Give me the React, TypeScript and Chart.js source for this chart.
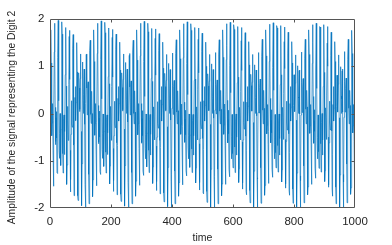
import React, { useEffect, useRef } from "react";
import { Chart, registerables } from "chart.js";

Chart.register(...registerables);

const xTickValues = [0, 200, 400, 600, 800, 1000];
const yTickValues = [-2, -1, 0, 1, 2];
const xAxisTitle = "time";
const yAxisTitle = "Amplitude of the signal representing the Digit 2";

// sample values of the digit-2 tone, sample 1 .. 1000
const digit2Signal = [
  0, 1.36, 1.77, 1.07, 0.03, -0.47, -0.2, 0.21, 0.04, -0.79, -1.54, -1.35,
  -0.14, 1.3, 1.91, 1.32, 0.13, -0.66, -0.59, -0.09, 0.04, -0.52, -1.25, -1.27,
  -0.25, 1.18, 1.97, 1.53, 0.27, -0.79, -0.95, -0.42, 0.0, -0.26, -0.9, -1.1,
  -0.34, 1.02, 1.94, 1.68, 0.42, -0.85, -1.26, -0.76, -0.11, -0.03, -0.53, -0.87,
  -0.38, 0.82, 1.82, 1.76, 0.58, -0.84, -1.5, -1.09, -0.26, 0.15, -0.14, -0.57,
  -0.36, 0.61, 1.63, 1.76, 0.72, -0.78, -1.66, -1.4, -0.44, 0.27, 0.23, -0.22,
  -0.29, 0.41, 1.37, 1.67, 0.83, -0.67, -1.74, -1.65, -0.65, 0.34, 0.57, 0.15,
  -0.15, 0.23, 1.07, 1.5, 0.88, -0.53, -1.74, -1.84, -0.86, 0.35, 0.86, 0.54,
  0.04, 0.09, 0.74, 1.26, 0.88, -0.38, -1.65, -1.95, -1.06, 0.3, 1.09, 0.92,
  0.27, 0.0, 0.4, 0.94, 0.81, -0.23, -1.5, -1.98, -1.22, 0.21, 1.25, 1.26,
  0.54, -0.03, 0.08, 0.58, 0.67, -0.09, -1.29, -1.91, -1.34, 0.09, 1.33, 1.55,
  0.82, -0.02, -0.21, 0.19, 0.47, 0.0, -1.04, -1.76, -1.4, -0.05, 1.33, 1.77,
  1.1, 0.05, -0.46, -0.21, 0.21, 0.05, -0.77, -1.53, -1.38, -0.19, 1.27, 1.91,
  1.35, 0.17, -0.64, -0.6, -0.1, 0.05, -0.5, -1.23, -1.29, -0.3, 1.14, 1.96,
  1.56, 0.31, -0.76, -0.95, -0.43, -0.01, -0.24, -0.89, -1.12, -0.38, 0.97, 1.93,
  1.71, 0.47, -0.82, -1.26, -0.78, -0.12, -0.03, -0.52, -0.87, -0.41, 0.78, 1.81,
  1.78, 0.63, -0.8, -1.49, -1.11, -0.28, 0.15, -0.13, -0.57, -0.39, 0.57, 1.61,
  1.78, 0.77, -0.74, -1.65, -1.42, -0.47, 0.26, 0.24, -0.22, -0.3, 0.38, 1.35,
  1.68, 0.87, -0.62, -1.72, -1.67, -0.68, 0.32, 0.57, 0.17, -0.16, 0.21, 1.05,
  1.51, 0.92, -0.48, -1.71, -1.86, -0.9, 0.31, 0.86, 0.55, 0.05, 0.08, 0.72,
  1.26, 0.91, -0.33, -1.62, -1.96, -1.1, 0.26, 1.08, 0.93, 0.29, 0.0, 0.39,
  0.94, 0.84, -0.18, -1.46, -1.98, -1.26, 0.16, 1.23, 1.27, 0.56, -0.03, 0.07,
  0.57, 0.69, -0.06, -1.25, -1.91, -1.38, 0.03, 1.3, 1.55, 0.85, 0.0, -0.22,
  0.18, 0.48, 0.03, -1.0, -1.75, -1.43, -0.1, 1.29, 1.77, 1.13, 0.08, -0.45,
  -0.22, 0.21, 0.07, -0.74, -1.52, -1.41, -0.24, 1.22, 1.91, 1.38, 0.21, -0.63,
  -0.61, -0.11, 0.06, -0.47, -1.22, -1.31, -0.35, 1.1, 1.95, 1.59, 0.36, -0.74,
  -0.96, -0.45, -0.01, -0.23, -0.87, -1.13, -0.42, 0.93, 1.91, 1.73, 0.52, -0.78,
  -1.25, -0.8, -0.13, -0.02, -0.5, -0.88, -0.44, 0.74, 1.79, 1.8, 0.68, -0.76,
  -1.48, -1.13, -0.3, 0.14, -0.12, -0.56, -0.41, 0.54, 1.59, 1.79, 0.81, -0.69,
  -1.63, -1.44, -0.5, 0.25, 0.24, -0.21, -0.31, 0.35, 1.33, 1.69, 0.91, -0.57,
  -1.7, -1.69, -0.72, 0.29, 0.57, 0.18, -0.16, 0.19, 1.03, 1.51, 0.96, -0.43,
  -1.68, -1.87, -0.94, 0.28, 0.85, 0.57, 0.05, 0.07, 0.7, 1.25, 0.94, -0.28,
  -1.59, -1.97, -1.14, 0.22, 1.06, 0.94, 0.31, 0.0, 0.37, 0.93, 0.86, -0.14,
  -1.43, -1.98, -1.3, 0.11, 1.2, 1.28, 0.59, -0.02, 0.06, 0.57, 0.7, -0.02,
  -1.22, -1.91, -1.42, -0.02, 1.27, 1.56, 0.88, 0.03, -0.22, 0.17, 0.48, 0.06,
  -0.97, -1.75, -1.46, -0.15, 1.26, 1.77, 1.16, 0.11, -0.44, -0.23, 0.2, 0.09,
  -0.71, -1.51, -1.43, -0.28, 1.18, 1.9, 1.41, 0.24, -0.61, -0.61, -0.12, 0.07,
  -0.45, -1.21, -1.32, -0.39, 1.06, 1.94, 1.62, 0.4, -0.71, -0.96, -0.46, -0.01,
  -0.21, -0.86, -1.14, -0.46, 0.89, 1.9, 1.76, 0.57, -0.75, -1.25, -0.82, -0.15,
  -0.02, -0.49, -0.88, -0.47, 0.7, 1.77, 1.82, 0.73, -0.72, -1.47, -1.15, -0.32,
  0.14, -0.11, -0.56, -0.43, 0.5, 1.57, 1.81, 0.86, -0.64, -1.62, -1.46, -0.53,
  0.23, 0.25, -0.2, -0.32, 0.32, 1.31, 1.7, 0.96, -0.53, -1.68, -1.7, -0.76,
  0.27, 0.57, 0.19, -0.16, 0.17, 1.0, 1.51, 1.0, -0.38, -1.65, -1.88, -0.98,
  0.24, 0.84, 0.58, 0.06, 0.06, 0.68, 1.25, 0.97, -0.23, -1.56, -1.98, -1.18,
  0.17, 1.05, 0.95, 0.32, 0.0, 0.36, 0.93, 0.88, -0.1, -1.4, -1.99, -1.34,
  0.07, 1.18, 1.29, 0.61, -0.01, 0.05, 0.56, 0.71, 0.02, -1.18, -1.91, -1.45,
  -0.07, 1.24, 1.56, 0.9, 0.05, -0.22, 0.16, 0.49, 0.09, -0.94, -1.74, -1.49,
  -0.21, 1.22, 1.77, 1.19, 0.14, -0.44, -0.24, 0.2, 0.11, -0.68, -1.5, -1.46,
  -0.33, 1.14, 1.9, 1.44, 0.28, -0.59, -0.62, -0.13, 0.07, -0.43, -1.19, -1.34,
  -0.44, 1.01, 1.93, 1.64, 0.44, -0.68, -0.96, -0.48, -0.02, -0.2, -0.85, -1.15,
  -0.5, 0.84, 1.88, 1.78, 0.61, -0.71, -1.25, -0.84, -0.16, -0.01, -0.47, -0.88,
  -0.5, 0.65, 1.75, 1.84, 0.77, -0.68, -1.46, -1.17, -0.35, 0.13, -0.1, -0.56,
  -0.45, 0.46, 1.54, 1.82, 0.91, -0.6, -1.6, -1.47, -0.56, 0.21, 0.25, -0.19,
  -0.33, 0.29, 1.28, 1.71, 1.0, -0.48, -1.65, -1.72, -0.79, 0.24, 0.57, 0.2,
  -0.16, 0.15, 0.98, 1.52, 1.03, -0.33, -1.63, -1.89, -1.02, 0.21, 0.83, 0.59,
  0.07, 0.05, 0.66, 1.25, 1.0, -0.19, -1.53, -1.98, -1.22, 0.13, 1.03, 0.96,
  0.34, 0.0, 0.34, 0.92, 0.9, -0.05, -1.36, -1.99, -1.38, 0.02, 1.15, 1.29,
  0.63, 0.01, 0.04, 0.55, 0.73, 0.05, -1.15, -1.9, -1.48, -0.12, 1.2, 1.57,
  0.93, 0.07, -0.22, 0.15, 0.49, 0.11, -0.91, -1.73, -1.52, -0.26, 1.18, 1.77,
  1.22, 0.17, -0.43, -0.25, 0.19, 0.12, -0.65, -1.48, -1.48, -0.38, 1.1, 1.89,
  1.47, 0.32, -0.57, -0.62, -0.14, 0.08, -0.41, -1.18, -1.35, -0.48, 0.97, 1.92,
  1.67, 0.49, -0.66, -0.96, -0.5, -0.02, -0.19, -0.83, -1.15, -0.53, 0.8, 1.86,
  1.81, 0.66, -0.68, -1.24, -0.85, -0.18, -0.01, -0.46, -0.88, -0.53, 0.61, 1.73,
  1.86, 0.82, -0.64, -1.45, -1.19, -0.37, 0.13, -0.09, -0.55, -0.47, 0.43, 1.52,
  1.83, 0.95, -0.55, -1.58, -1.49, -0.59, 0.2, 0.26, -0.18, -0.35, 0.26, 1.26,
  1.72, 1.04, -0.43, -1.63, -1.73, -0.83, 0.21, 0.57, 0.21, -0.16, 0.13, 0.96,
  1.52, 1.07, -0.28, -1.6, -1.9, -1.06, 0.17, 0.82, 0.6, 0.08, 0.04, 0.64,
  1.24, 1.03, -0.14, -1.49, -1.99, -1.26, 0.09, 1.01, 0.97, 0.35, 0.0, 0.33,
  0.91, 0.92, -0.01, -1.32, -1.99, -1.42, -0.03, 1.13, 1.3, 0.65, 0.02, 0.04,
  0.54, 0.74, 0.09, -1.11, -1.89, -1.52, -0.17, 1.17, 1.57, 0.96, 0.09, -0.22,
  0.14, 0.49, 0.14, -0.87, -1.72, -1.55, -0.31, 1.14, 1.77, 1.25, 0.21, -0.42,
  -0.26, 0.19, 0.14, -0.62, -1.47, -1.5, -0.43, 1.06, 1.88, 1.5, 0.36, -0.55,
  -0.63, -0.15, 0.08, -0.38, -1.16, -1.37, -0.52, 0.92, 1.91, 1.7, 0.53, -0.63,
  -0.96, -0.51, -0.03, -0.17, -0.81, -1.16, -0.57, 0.75, 1.84, 1.83, 0.71, -0.64,
  -1.24, -0.87, -0.19, 0.0, -0.45, -0.88, -0.56, 0.57, 1.7, 1.88, 0.87, -0.59,
  -1.44, -1.21, -0.39, 0.12, -0.08, -0.55, -0.49, 0.39, 1.49, 1.84, 1.0, -0.5,
  -1.56, -1.51, -0.62, 0.18, 0.26, -0.18, -0.35, 0.23, 1.23, 1.72, 1.08, -0.37,
  -1.6, -1.75, -0.86, 0.19, 0.57, 0.22, -0.16, 0.11, 0.93, 1.52, 1.1, -0.23,
  -1.56, -1.91, -1.09, 0.14, 0.81, 0.61, 0.09, 0.03, 0.62, 1.24, 1.06, -0.09,
  -1.46, -1.99, -1.3, 0.05, 0.99, 0.98, 0.37, 0.0, 0.31, 0.9, 0.94, 0.03,
  -1.29, -1.98, -1.45, -0.08, 1.1, 1.31, 0.68, 0.03, 0.03, 0.53, 0.75, 0.12,
  -1.07, -1.89, -1.55, -0.22, 1.14, 1.57, 0.98, 0.11, -0.22, 0.13, 0.49, 0.17,
  -0.84, -1.71, -1.57, -0.36, 1.1, 1.76, 1.27, 0.24, -0.41, -0.26, 0.19, 0.16,
  -0.59, -1.45, -1.52, -0.48,
];

const FONT = "'Liberation Sans', Arial, Helvetica, sans-serif";
const TEXT = "#262626";

const boxPlugin = {
  id: "matlabBox",
  afterDraw(chart: any) {
    const { ctx, chartArea: a, scales } = chart;
    const L = Math.round(a.left) + 0.5;
    const R = Math.round(a.right) - 0.5;
    const T = Math.round(a.top) + 0.5;
    const B = Math.round(a.bottom) - 0.5;
    const tl = 3;
    ctx.save();
    ctx.strokeStyle = "#555555";
    ctx.lineWidth = 1;
    ctx.beginPath();
    ctx.rect(L, T, R - L, B - T);
    scales.x.ticks.forEach((t: any) => {
      const px = Math.round(scales.x.getPixelForValue(t.value)) + 0.5;
      if (px <= L + 1 || px >= R - 1) return;
      ctx.moveTo(px, B);
      ctx.lineTo(px, B - tl);
      ctx.moveTo(px, T);
      ctx.lineTo(px, T + tl);
    });
    scales.y.ticks.forEach((t: any) => {
      const py = Math.round(scales.y.getPixelForValue(t.value)) + 0.5;
      if (py <= T + 1 || py >= B - 1) return;
      ctx.moveTo(L, py);
      ctx.lineTo(L + tl, py);
      ctx.moveTo(R, py);
      ctx.lineTo(R - tl, py);
    });
    ctx.stroke();

    // y-axis title, drawn as rotated text
    ctx.fillStyle = TEXT;
    ctx.font = `10.3px ${FONT}`;
    ctx.textAlign = "center";
    ctx.textBaseline = "middle";
    ctx.translate(12.5, 117.5);
    ctx.rotate(-Math.PI / 2);
    ctx.fillText(yAxisTitle, 0, 0);
    ctx.restore();
  },
};

export default function App() {
  const canvasRef = useRef<HTMLCanvasElement | null>(null);

  useEffect(() => {
    document.body.style.margin = "0";
    const canvas = canvasRef.current;
    if (!canvas) return;
    const points = digit2Signal.map((v, i) => ({ x: i + 1, y: v }));
    const chart = new Chart(canvas, {
      type: "line",
      data: {
        datasets: [
          {
            data: points,
            borderColor: "#0072BD",
            borderWidth: 0.7,
            pointRadius: 0,
            tension: 0,
            fill: false,
          },
        ],
      },
      options: {
        responsive: false,
        animation: false,
        events: [],
        layout: { padding: { left: 0, right: 37, top: 19, bottom: 0 } },
        plugins: {
          legend: { display: false },
          tooltip: { enabled: false },
        },
        scales: {
          x: {
            type: "linear",
            min: 0,
            max: 1000,
            afterBuildTicks: (s: any) => {
              s.ticks = xTickValues.map((v) => ({ value: v }));
            },
            afterFit: (s: any) => {
              s.height = 37;
            },
            ticks: {
              autoSkip: false,
              maxRotation: 0,
              padding: 7.4,
              color: TEXT,
              font: { family: FONT, size: 11.5 },
              callback: (v: any) => String(v),
            },
            grid: { display: false, drawTicks: false },
            border: { display: false },
            title: {
              display: true,
              text: xAxisTitle,
              color: TEXT,
              font: { family: FONT, size: 10.5 },
              padding: { top: 0, bottom: 0.5 },
            },
          },
          y: {
            type: "linear",
            min: -2,
            max: 2,
            afterBuildTicks: (s: any) => {
              s.ticks = yTickValues.map((v) => ({ value: v }));
            },
            afterFit: (s: any) => {
              s.width = 50;
            },
            ticks: {
              autoSkip: false,
              padding: 5.5,
              color: TEXT,
              font: { family: FONT, size: 11.5 },
              callback: (v: any) => String(v),
            },
            grid: { display: false, drawTicks: false },
            border: { display: false },
            title: { display: false, text: yAxisTitle },
          },
        },
      },
      plugins: [boxPlugin],
    } as any);
    return () => chart.destroy();
  }, []);

  return (
    <div style={{ width: 392, height: 245 }}>
      <canvas ref={canvasRef} width={392} height={245} />
    </div>
  );
}
